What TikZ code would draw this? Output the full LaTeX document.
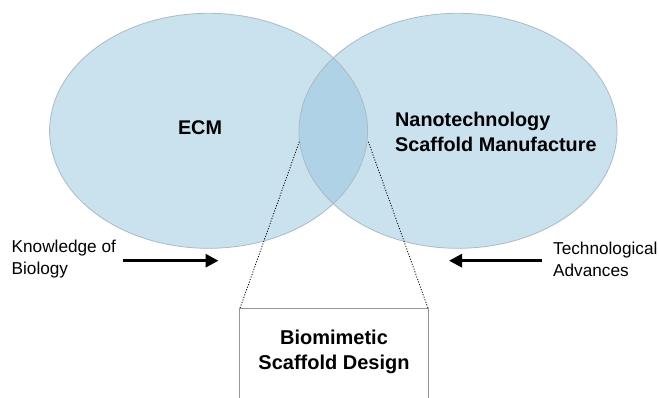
\documentclass[tikz,border=0pt]{standalone}
\usepackage{fontspec}
\setmainfont{Liberation Sans}
\usetikzlibrary{shapes.geometric,arrows.meta}
\definecolor{venn}{RGB}{150,195,222}
\definecolor{vennedge}{RGB}{170,186,198}
\definecolor{boxedge}{RGB}{150,150,150}
\tikzset{
  vennset/.style={ellipse, inner sep=0pt, minimum width=318pt, minimum height=235pt},
  bigbold/.style={inner sep=0pt, font=\fontsize{19.8}{25}\selectfont\bfseries},
  sidetext/.style={inner sep=0pt, align=left, font=\fontsize{17.2}{22}\selectfont},
  bigarrow/.style={line width=3pt, -{Triangle[length=13pt,width=13pt]}},
  zoomline/.style={line width=0.8pt, dash pattern=on 1.1pt off 1.6pt},
}
\begin{document}
\begin{tikzpicture}[x=1pt,y=-1pt]
\useasboundingbox (0,0) rectangle (659,398);
% Venn sets
\node[vennset, fill=venn, fill opacity=0.5] (ecmset) at (208.6,130.8) {};
\node[vennset, fill=venn, fill opacity=0.5] (nanoset) at (458,130.8) {};
\node[vennset, draw=vennedge, line width=0.8pt] at (ecmset.center) {};
\node[vennset, draw=vennedge, line width=0.8pt] at (nanoset.center) {};
% labels
\node[bigbold] (ecm) at (200,128) {ECM};
\node[bigbold, anchor=west, align=left] (nano) at (395,131.5) {Nanotechnology\\Scaffold Manufacture};
% side texts and arrows
\node[sidetext, anchor=west] (know) at (11.5,259) {Knowledge of\\Biology};
\node[sidetext, anchor=west] (tech) at (553,259) {Technological\\Advances};
\coordinate (kstart) at (123,260.7);
\coordinate (kend) at (218.5,260.7);
\coordinate (tstart) at (541.7,260.7);
\coordinate (tend) at (449,260.7);
\draw[bigarrow] (kstart) -- (kend);
\draw[bigarrow] (tstart) -- (tend);
% zoom box (open at the bottom edge of the picture)
\node[minimum width=188pt, minimum height=86pt, inner sep=0pt,
      align=center, font=\fontsize{20}{25}\selectfont\bfseries] (design) at (334,352) {Biomimetic\\Scaffold Design};
\draw[draw=boxedge, line width=1.2pt]
  ([yshift=-8pt]design.south west) -- (design.north west) -- (design.north east) -- ([yshift=-8pt]design.south east);
\coordinate (lensL) at (299.3,141.7);
\coordinate (lensR) at (368.3,141.7);
\draw[zoomline] (lensL) -- (design.north west);
\draw[zoomline] (lensR) -- (design.north east);
\end{tikzpicture}
\end{document}
